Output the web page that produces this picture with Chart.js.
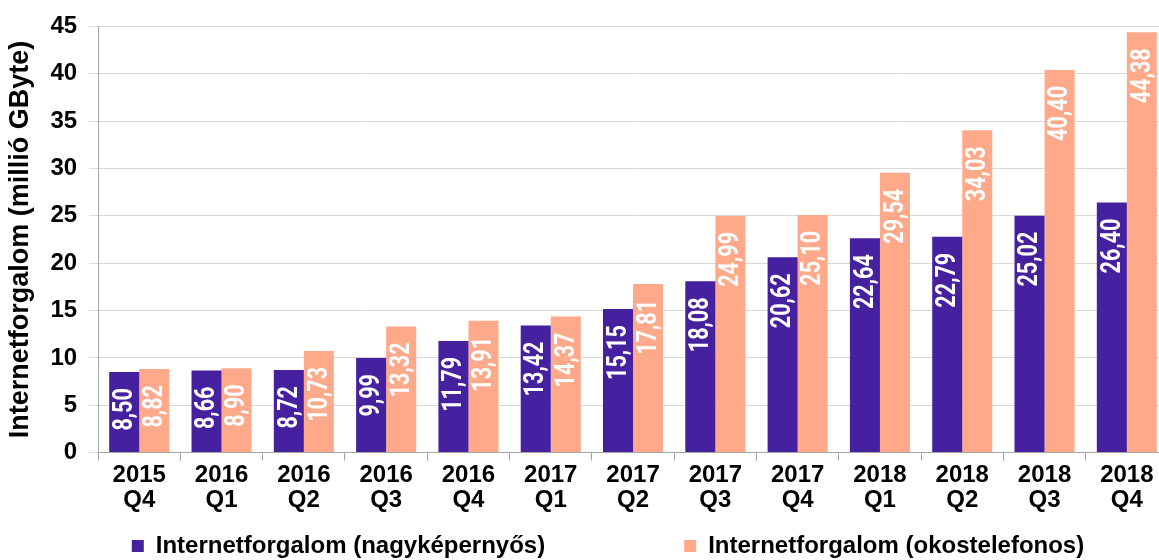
<!DOCTYPE html>
<html>
<head>
<meta charset="utf-8">
<script src="https://cdn.jsdelivr.net/npm/chart.js@4/dist/chart.umd.min.js"></script>
<style>
  html, body { margin: 0; padding: 0; background: #fff; overflow: hidden; }
  #wrap { width: 1212px; height: 568px; }
</style>
</head>
<body>
<div id="wrap"><canvas id="trafficChart"></canvas></div>
<script>
// Negyedévek (két soros tengelyfeliratok)
const quarters = [
  ['2015', 'Q4'], ['2016', 'Q1'], ['2016', 'Q2'], ['2016', 'Q3'], ['2016', 'Q4'],
  ['2017', 'Q1'], ['2017', 'Q2'], ['2017', 'Q3'], ['2017', 'Q4'],
  ['2018', 'Q1'], ['2018', 'Q2'], ['2018', 'Q3'], ['2018', 'Q4']
];

// Internetforgalom, millió GByte
const bigScreen = [8.50, 8.66, 8.72, 9.99, 11.79, 13.42, 15.15, 18.08, 20.62, 22.64, 22.79, 25.02, 26.40];
const smartphone = [8.82, 8.90, 10.73, 13.32, 13.91, 14.37, 17.81, 24.99, 25.10, 29.54, 34.03, 40.40, 44.38];

const yTicks = [0, 5, 10, 15, 20, 25, 30, 35, 40, 45];

const PURPLE = '#45209f';
const ORANGE = '#ffa98b';

// Felirat a hasábok tetején, elforgatva
const barLabels = {
  id: 'barLabels',
  afterDatasetsDraw(chart) {
    const ctx = chart.ctx;
    ctx.save();
    ctx.fillStyle = '#ffffff';
    ctx.font = 'bold 27px Roboto';
    ctx.textAlign = 'right';
    ctx.textBaseline = 'middle';
    chart.data.datasets.forEach((ds, i) => {
      chart.getDatasetMeta(i).data.forEach((bar, j) => {
        const txt = ds.data[j].toFixed(2).replace('.', ',');
        ctx.save();
        ctx.translate(bar.x + 1, bar.y + 16);
        ctx.rotate(-Math.PI / 2);
        ctx.scale(0.8, 1);
        ctx.fillText(txt, 0, 0);
        ctx.restore();
      });
    });
    ctx.restore();
  }
};

const chart = new Chart(document.getElementById('trafficChart'), {
  type: 'bar',
  data: {
    labels: quarters,
    datasets: [{
      label: 'Internetforgalom (nagyképernyős)\u2003\u2003\u2003\u2003\u2003',
      data: bigScreen,
      backgroundColor: PURPLE,
      categoryPercentage: 0.73,
      barPercentage: 1.0,
      yAxisID: 'y',
    }, {
      label: 'Internetforgalom (okostelefonos)',
      data: smartphone,
      backgroundColor: ORANGE,
      categoryPercentage: 0.73,
      barPercentage: 1.0,
      yAxisID: 'y',
    }],
  },
  options: {
    responsive: true,
    maintainAspectRatio: false,
    animation: false,
    layout: { padding: { left: 4, right: 0, top: 16, bottom: 0 } },
    plugins: {
      tooltip: { enabled: false },
      legend: {
        position: 'bottom',
        labels: {
          color: '#000',
          font: { family: 'Liberation Sans', size: 24, weight: 'bold' },
          boxWidth: 12,
          boxHeight: 12,
          padding: 19,
        },
      },
    },
    scales: {
      x: {
        grid: {
          drawOnChartArea: false,
          offset: true,
          color: '#a6a6a6',
          tickLength: 8,
        },
        border: { color: '#a6a6a6' },
        ticks: {
          color: '#000',
          font: { family: 'Liberation Sans', size: 24, weight: 'bold', lineHeight: 1.05 },
          maxRotation: 0,
          padding: 2,
        },
      },
      y: {
        min: 0,
        max: 45,
        afterBuildTicks: (scale) => { scale.ticks = yTicks.map(v => ({ value: v })); },
        grid: { color: '#d9d9d9', tickLength: 9 },
        border: { color: '#a6a6a6' },
        ticks: {
          color: '#000',
          font: { family: 'Liberation Sans', size: 24, weight: 'bold' },
          padding: 12,
        },
        title: {
          display: true,
          text: 'Internetforgalom (millió GByte)',
          color: '#000',
          font: { family: 'Liberation Sans', size: 27, weight: 'bold' },
          padding: { top: 0, bottom: 2 },
        },
      },
      // üres jobb oldali sáv, a jelmagyarázat középre igazításához
      yRight: {
        position: 'right',
        min: 0,
        max: 45,
        grid: { display: false },
        border: { display: false },
        ticks: { display: false },
        afterFit: (scale) => { scale.width = 44; },
      },
    },
  },
  plugins: [barLabels],
});
</script>
</body>
</html>
